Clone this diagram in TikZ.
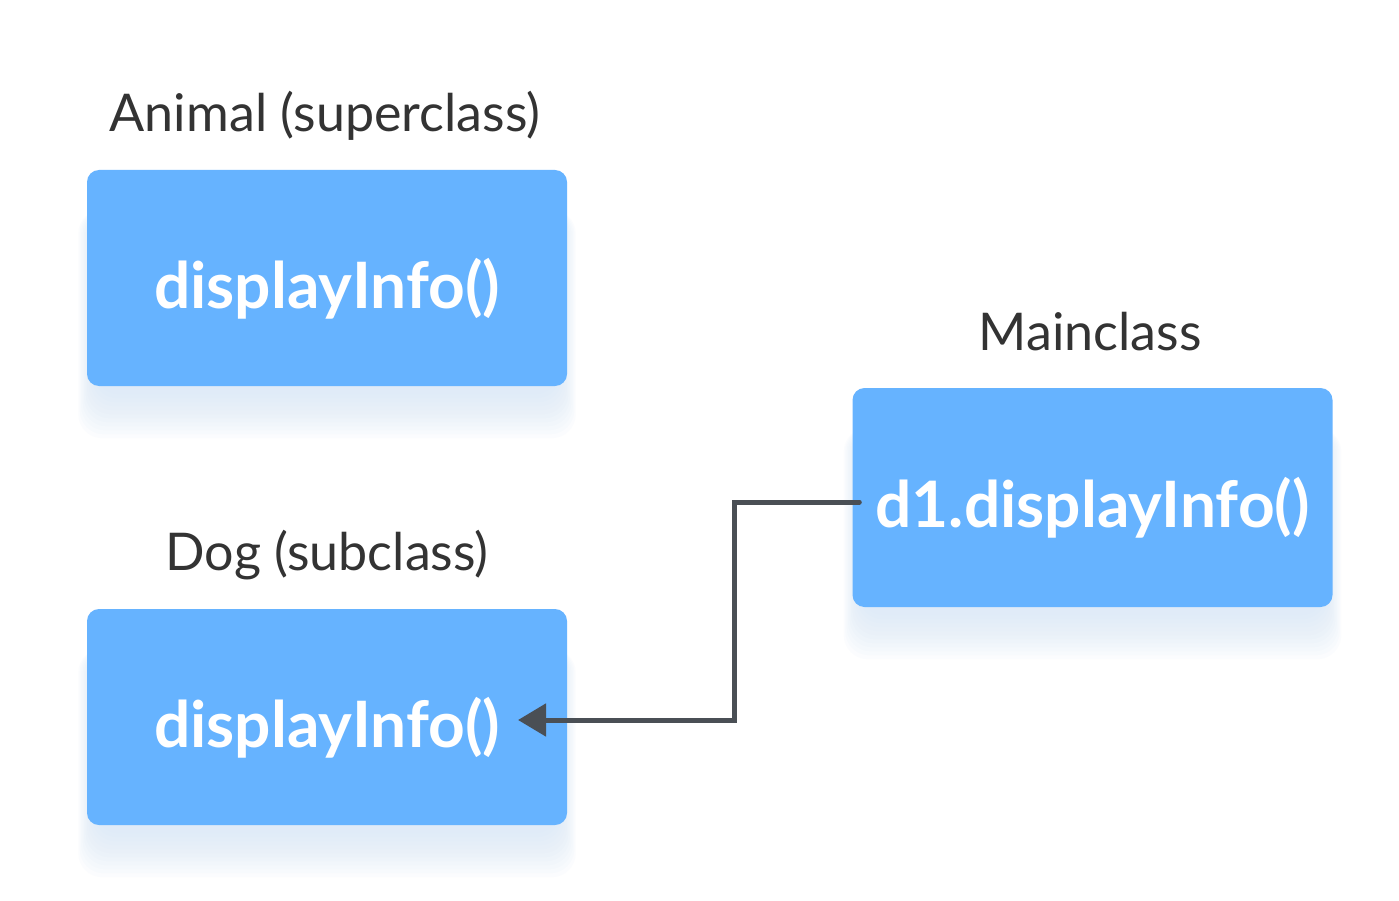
\documentclass[tikz,border=0pt]{standalone}
\usepackage{fontspec}
\setmainfont{Lato}
\usetikzlibrary{arrows.meta,calc}
\definecolor{boxblue}{HTML}{66B3FF}
\definecolor{labelgray}{HTML}{333333}
\definecolor{linegray}{HTML}{4A4F55}
\definecolor{shadowblue}{HTML}{D6E6F8}
\tikzset{
  methodbox/.style={draw=none, fill=boxblue, rounded corners=12pt, minimum width=480pt, minimum height=216pt, inner sep=0pt,
    text=white, font=\fontsize{64}{70}\selectfont\bfseries, text height=60pt, text depth=0pt},
  classlabel/.style={text=labelgray, font=\fontsize{52}{60}\selectfont, inner sep=0pt},
  conn/.style={draw=linegray, line width=5pt, -{Triangle[length=28pt,width=32pt]}},
  softshadow/.style={fill=shadowblue, fill opacity=0.09, rounded corners=24pt},
}
\newcommand{\boxshadow}[1]{%
  \foreach \k in {0,...,11}{
    \fill[softshadow] ($(#1.north west)+(-1.5*\k+8, 40)$) rectangle ($(#1.south east)+(1.5*\k-8, 8+4*\k)$);
  }%
}
\begin{document}
\begin{tikzpicture}[x=1pt,y=-1pt]
\useasboundingbox (0,0) rectangle (1399,901);
\fill[white] (0,0) rectangle (1399,901);
\path (327,278) node[methodbox, fill=none, text opacity=0] (animalghost) {displayInfo()};
\path (327,717) node[methodbox, fill=none, text opacity=0] (dogghost) {displayInfo()};
\path (1092.5,497.5) node[methodbox, minimum height=219pt, fill=none, text opacity=0] (mainghost) {d1.displayInfo()};
\boxshadow{animalghost}
\boxshadow{dogghost}
\boxshadow{mainghost}
\node[methodbox] (animal) at (327,278) {displayInfo()};
\node[methodbox] (dog) at (327,717) {displayInfo()};
\node[methodbox, minimum height=219pt] (main) at (1092.5,497.5) {d1.displayInfo()};
\node[classlabel] (animallabel) at (325,116) {Animal (superclass)};
\node[classlabel] (doglabel) at (327,555) {Dog (subclass)};
\node[classlabel] (mainlabel) at (1090,332) {Mainclass};
\coordinate (start) at ([xshift=7pt]main.west |- 0,502);
\coordinate (tip) at (518,720);
\draw[conn, line cap=round] (start) -- (734,502) -- (734,720) -- (tip);
\end{tikzpicture}
\end{document}
